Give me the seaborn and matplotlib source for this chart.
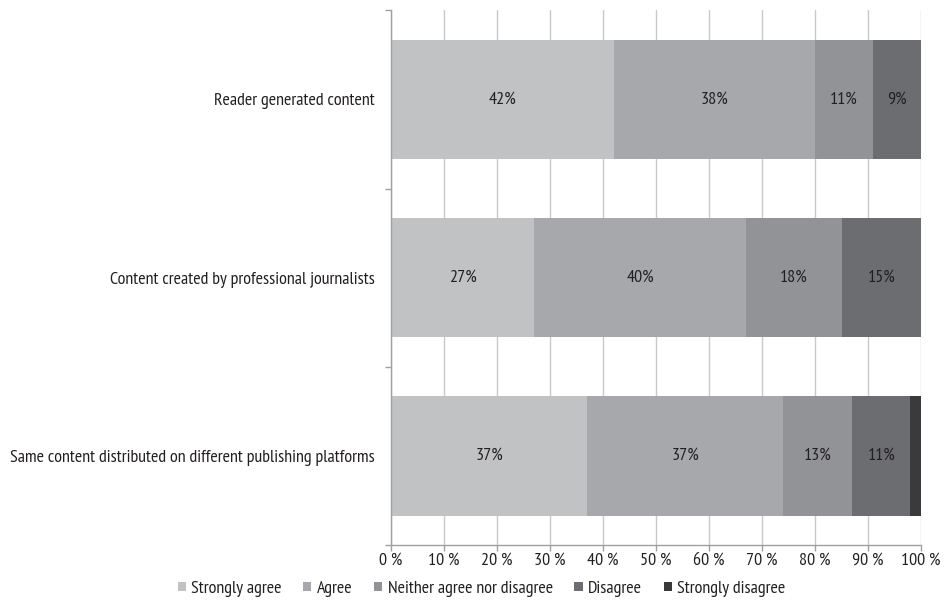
import matplotlib
matplotlib.use("Agg")
import matplotlib.pyplot as plt
import seaborn as sns
import numpy as np
import pandas as pd
from matplotlib.ticker import FixedLocator
from matplotlib.patches import Patch

categories = [
    "Reader generated content",
    "Content created by professional journalists",
    "Same content distributed on different publishing platforms",
]
series_names = ["Strongly agree", "Agree", "Neither agree nor disagree", "Disagree", "Strongly disagree"]
strongly_agree = [42, 27, 37]
agree = [38, 40, 37]
neither = [11, 18, 13]
disagree = [9, 15, 11]
strongly_disagree = [0, 0, 2]
colors = ["#c1c2c4", "#a7a8ab", "#929396", "#6c6d70", "#3a3a3c"]
x_ticks = [0, 10, 20, 30, 40, 50, 60, 70, 80, 90, 100]

sns.set_theme(style="white")
plt.rcParams["font.family"] = ["PT Sans Narrow", "DejaVu Sans"]
FS = 13
TXT = "#231f20"

series = [strongly_agree, agree, neither, disagree, strongly_disagree]
df = pd.DataFrame({n: v for n, v in zip(series_names, series)}, index=categories)
cum = df.cumsum(axis=1)

fig = plt.figure(figsize=(9.47, 6.03), dpi=100)
ax = fig.add_axes([0.413, 0.096, 0.5596, 0.887])

ax.set_axisbelow(True)
ax.xaxis.grid(True, color="#c9c9c9", linewidth=1.0)

for i in range(len(series_names) - 1, -1, -1):
    name = series_names[i]
    d = pd.DataFrame({"cat": categories, "val": cum[name].values})
    sns.barplot(data=d, x="val", y="cat", orient="h", color=colors[i],
                width=0.67, ax=ax, saturation=1, edgecolor="none", linewidth=0)

for j, cat in enumerate(categories):
    left = 0
    for i, name in enumerate(series_names):
        v = df.loc[cat, name]
        if v >= 5:
            ax.text(left + v / 2, j, f"{v:.0f}%", ha="center", va="center",
                    fontsize=FS, color=TXT)
        left += v

ax.set_xlim(0, 100)
ax.set_ylim(2.5, -0.5)
ax.set_xlabel("")
ax.set_ylabel("")
ax.xaxis.set_major_locator(FixedLocator(x_ticks))
ax.set_xticklabels([f"{t} %" for t in x_ticks], fontsize=FS, color=TXT)
ax.set_yticks(range(len(categories)))
ax.set_yticklabels(categories, fontsize=FS, color=TXT)
ax.yaxis.set_minor_locator(FixedLocator([-0.5, 0.5, 1.5, 2.5]))
ax.tick_params(axis="y", which="major", length=0, pad=11.5)
ax.tick_params(axis="y", which="minor", length=4, color="#a0a0a0", width=1, left=True)
ax.tick_params(axis="x", which="major", length=4, color="#a0a0a0", width=1, bottom=True, pad=1.5)

for s in ["top", "right"]:
    ax.spines[s].set_visible(False)
for s in ["left", "bottom"]:
    ax.spines[s].set_visible(True)
    ax.spines[s].set_color("#a0a0a0")
    ax.spines[s].set_linewidth(1)

handles = [Patch(facecolor=c, edgecolor="none", label=n) for n, c in zip(series_names, colors)]
leg = fig.legend(handles=handles, loc="center", bbox_to_anchor=(0.5085, 0.0232),
                 ncol=5, frameon=False, fontsize=FS, handlelength=0.45, handleheight=0.45,
                 handletextpad=0.3, columnspacing=1.2, borderpad=0)
for t in leg.get_texts():
    t.set_color(TXT)

fig.savefig("out.png", dpi=100)
